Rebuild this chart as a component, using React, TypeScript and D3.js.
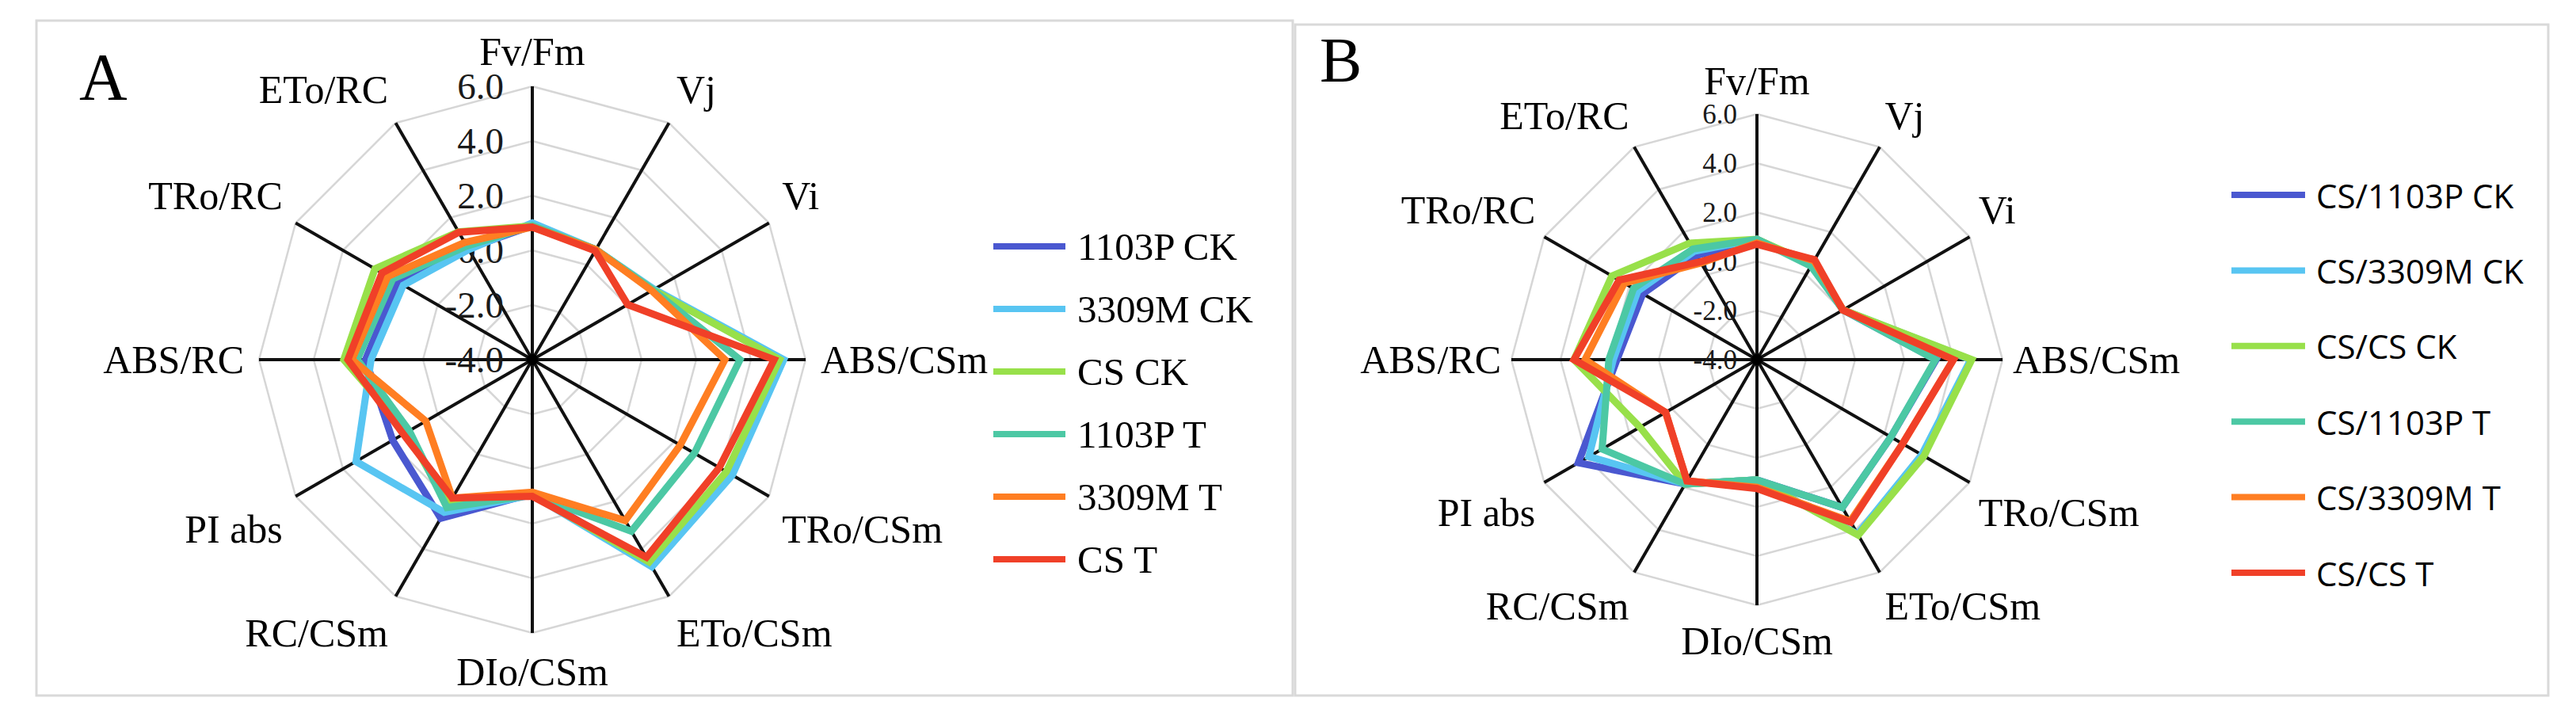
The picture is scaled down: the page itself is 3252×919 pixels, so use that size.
import React from "react";
import * as d3 from "d3";

const categories = ["Fv/Fm", "Vj", "Vi", "ABS/CSm", "TRo/CSm", "ETo/CSm", "DIo/CSm", "RC/CSm", "PI abs", "ABS/RC", "TRo/RC", "ETo/RC"];
const tickValues = [-4, -2, 0, 2, 4, 6];
const tickLabels = ["-4.0", "-2.0", "0.0", "2.0", "4.0", "6.0"];
const colors = ["#4a58d0", "#58c5f2", "#98e04a", "#4cc8a4", "#ff7e22", "#f04028"];

// Panel A
const seriesA = ["1103P CK", "3309M CK", "CS CK", "1103P T", "3309M T", "CS T"];
const a1103PCK = [0.9, 0.65, 1.1, 5.1, 4.25, 4.6, 0.9, 2.7, 1.9, 2.1, 1.7, 0.7];
const a3309MCK = [1.0, 0.65, 1.15, 5.2, 4.45, 4.75, 0.95, 2.45, 3.45, 1.9, 1.45, 0.65];
const aCSCK = [0.9, 0.65, 1.1, 5.05, 4.2, 4.55, 0.95, 2.15, 1.3, 2.9, 2.65, 1.4];
const a1103PT = [0.9, 0.65, 1.1, 3.6, 2.85, 3.25, 0.95, 2.25, 1.2, 2.4, 1.9, 0.8];
const a3309MT = [0.85, 0.65, 1.05, 3.05, 2.25, 2.8, 0.85, 1.85, 0.5, 2.6, 2.1, 0.95];
const aCST = [0.85, 0.6, 0.03, 4.85, 3.9, 4.35, 1.0, 1.85, 1.45, 2.75, 2.35, 1.38];

// Panel B
const seriesB = ["CS/1103P CK", "CS/3309M CK", "CS/CS CK", "CS/1103P T", "CS/3309M T", "CS/CS T"];
const b1103PCK = [0.9, 0.45, 0.05, 3.3, 2.3, 2.95, 0.9, 1.85, 4.4, 1.7, 1.37, 0.9];
const b3309MCK = [0.9, 0.45, 0.05, 4.7, 3.75, 4.2, 0.9, 1.85, 3.9, 1.85, 1.6, 1.1];
const bCSCK = [0.9, 0.5, 0.05, 4.75, 3.85, 4.25, 0.9, 1.85, 1.5, 3.45, 2.82, 1.48];
const b1103PT = [0.9, 0.4, 0.05, 3.27, 2.3, 2.95, 0.9, 1.85, 3.28, 2.03, 1.8, 1.2];
const b3309MT = [0.75, 0.65, 0.05, 4.0, 2.85, 3.6, 1.2, 1.7, 0.3, 3.0, 2.24, 0.55];
const bCST = [0.7, 0.7, 0.04, 4.0, 2.85, 3.65, 1.25, 1.7, 0.29, 3.45, 2.48, 0.6];

const serif = "'Liberation Serif', 'Times New Roman', serif";
const sans = "'Open Sans', 'Liberation Sans', sans-serif";

type Cfg = {
  box: [number, number, number, number];
  letter: string; letterX: number; letterY: number; letterSize: number;
  cx: number; cy: number; R: number;
  tickFont: number; tickGap: number;
  catFont: number; g: number; topA: number; topB: number; botA: number; botB: number;
  names: string[]; values: number[][];
  legX1: number; legX2: number; legTextX: number; legY0: number; legDy: number; legFont: number; legFamily: string;
};

function Panel({ c }: { c: Cfg }) {
  const n = categories.length;
  const r = d3.scaleLinear().domain([-4, 6]).range([0, c.R]);
  const ang = (i: number) => (i * 2 * Math.PI) / n;
  const line = d3
    .lineRadial<number>()
    .angle((_, i) => ang(i))
    .radius((v) => r(v))
    .curve(d3.curveLinearClosed);
  return (
    <g>
      <rect x={c.box[0]} y={c.box[1]} width={c.box[2]} height={c.box[3]} fill="#fff" stroke="#d9d9d9" strokeWidth={3} />
      <text x={c.letterX} y={c.letterY} fontFamily={serif} fontSize={c.letterSize} fill="#000">{c.letter}</text>
      <g transform={`translate(${c.cx},${c.cy})`}>
        {tickValues.slice(1).map((t) => (
          <path key={t} d={line(categories.map(() => t)) || ""} fill="none" stroke="#d6d6d6" strokeWidth={2.5} />
        ))}
        {categories.map((_, i) => (
          <line key={i} x1={0} y1={0} x2={Math.sin(ang(i)) * c.R} y2={-Math.cos(ang(i)) * c.R} stroke="#111" strokeWidth={4} />
        ))}
        <circle r={7} fill="#000" />
        {tickValues.map((t, i) => (
          <text key={t} x={-c.tickGap} y={-r(t)} textAnchor="end" dominantBaseline="central" fontFamily={serif} fontSize={c.tickFont} fill="#1a1a1a">
            {tickLabels[i]}
          </text>
        ))}
        {c.values.map((vals, k) => (
          <path key={k} d={line(vals) || ""} fill="none" stroke={colors[k]} strokeWidth={9} strokeLinejoin="miter" />
        ))}
        {categories.map((cat, i) => {
          const s = Math.sin(ang(i));
          const co = Math.cos(ang(i));
          const ex = s * c.R;
          const ey = -co * c.R;
          const anchor = Math.abs(s) < 0.01 ? "middle" : s > 0 ? "start" : "end";
          const x = ex + c.g * s;
          let y = ey;
          if (co > 0.01) y = ey - (c.topA + c.topB * co);
          else if (co < -0.01) y = ey + (c.botA + c.botB * -co);
          return (
            <text key={cat} x={x} y={y} textAnchor={anchor} dominantBaseline="central" fontFamily={serif} fontSize={c.catFont} fill="#000">
              {cat}
            </text>
          );
        })}
      </g>
      {c.names.map((nm, k) => {
        const y = c.legY0 + k * c.legDy;
        return (
          <g key={nm}>
            <line x1={c.legX1} x2={c.legX2} y1={y} y2={y} stroke={colors[k]} strokeWidth={8} />
            <text x={c.legTextX} y={y} dominantBaseline="central" fontFamily={c.legFamily} fontSize={c.legFont} fill="#000">
              {nm}
            </text>
          </g>
        );
      })}
    </g>
  );
}

const cfgA: Cfg = {
  box: [46, 26, 1586, 852], letter: "A", letterX: 100, letterY: 126, letterSize: 84,
  cx: 672, cy: 454, R: 345, tickFont: 47, tickGap: 36,
  catFont: 50, g: 19, topA: 25, topB: 19.5, botA: 35, botB: 13.5,
  names: seriesA, values: [a1103PCK, a3309MCK, aCSCK, a1103PT, a3309MT, aCST],
  legX1: 1254, legX2: 1345, legTextX: 1360, legY0: 311, legDy: 79, legFont: 49, legFamily: serif,
};

const cfgB: Cfg = {
  box: [1635, 31, 1582, 847], letter: "B", letterX: 1666, letterY: 103, letterSize: 80,
  cx: 2218, cy: 454, R: 310, tickFont: 35, tickGap: 25,
  catFont: 50, g: 13, topA: 26, topB: 16, botA: 30, botB: 15,
  names: seriesB, values: [b1103PCK, b3309MCK, bCSCK, b1103PT, b3309MT, bCST],
  legX1: 2817, legX2: 2910, legTextX: 2924, legY0: 246, legDy: 95.4, legFont: 42, legFamily: sans,
};

export default function App() {
  return (
    <svg width={3252} height={919} style={{ position: "absolute", left: 0, top: 0, background: "#fff" }}>
      <rect x={0} y={0} width={3252} height={919} fill="#fff" />
      <Panel c={cfgA} />
      <Panel c={cfgB} />
    </svg>
  );
}
